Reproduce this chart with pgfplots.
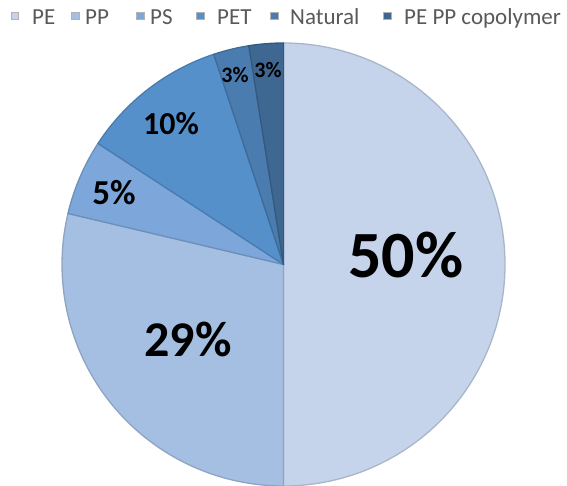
\documentclass[border=0pt]{standalone}
\usepackage{pgfplots}
\usepackage{pgfplotstable}
\pgfplotsset{compat=1.18}
\usepackage{fontspec}
\setmainfont{Carlito}
\definecolor{cPE}{RGB}{197,212,234}
\definecolor{cPP}{RGB}{165,191,226}
\definecolor{cPS}{RGB}{125,166,218}
\definecolor{cPET}{RGB}{85,144,202}
\definecolor{cNat}{RGB}{74,124,176}
\definecolor{cCop}{RGB}{62,103,146}
\definecolor{legtext}{RGB}{89,89,89}

% name value colour legend-square-x legend-text-x
\pgfplotstableread{
name value color sqx tx
PE 50 cPE 11.2 32
PP 28.7 cPP 71.5 85
PS 5.5 cPS 136.5 150
PET 10.7 cPET 196.5 217
Natural 2.6 cNat 270.5 290
{PE PP copolymer} 2.5 cCop 383.5 404
}\piedata

\begin{document}
\begin{tikzpicture}
\begin{axis}[
  x=1pt, y=1pt,
  xmin=0, xmax=567, ymin=0, ymax=486,
  hide axis,
]
\path (axis cs:0,0) rectangle (axis cs:567,486);
\pgfplotstablegetrowsof{\piedata}
\pgfmathtruncatemacro\N{\pgfplotsretval-1}
\def\cum{0}
\pgfplotsforeachungrouped \i in {0,...,\N}{%
  \pgfplotstablegetelem{\i}{value}\of\piedata \let\v\pgfplotsretval
  \pgfplotstablegetelem{\i}{color}\of\piedata \let\c\pgfplotsretval
  \pgfplotstablegetelem{\i}{sqx}\of\piedata \let\sx\pgfplotsretval
  \pgfplotstablegetelem{\i}{tx}\of\piedata \let\tx\pgfplotsretval
  \pgfplotstablegetelem{\i}{name}\of\piedata \let\nm\pgfplotsretval
  \pgfmathsetmacro\a{90-3.6*\cum}
  \pgfmathsetmacro\b{90-3.6*(\cum+\v)}
  \pgfmathsetmacro\cum{\cum+\v}
  \pgfmathsetmacro\sxe{\sx+7.5}
  \edef\temp{%
    \noexpand\fill[\c, draw=\c!86!black, line width=1.3pt, line join=round]
      (axis cs:283.5,221.5) -- ++(\a:221.5pt)
      arc[start angle=\a, end angle=\b, radius=221.5pt] -- cycle;
    \noexpand\fill[\c, draw=black!30, line width=0.5pt]
      (axis cs:\sx,466.5) rectangle (axis cs:\sxe,474);
    \noexpand\node[anchor=base west, inner sep=0pt, text=legtext,
      font=\noexpand\fontsize{23}{23}\noexpand\selectfont]
      at (axis cs:\tx,461) {\nm};
  }%
  \temp
}
\node[font=\bfseries\fontsize{66}{66}\selectfont] at (axis cs:406,231) {50\%};
\node[font=\bfseries\fontsize{50}{50}\selectfont] at (axis cs:188,147) {29\%};
\node[font=\bfseries\fontsize{35}{35}\selectfont] at (axis cs:114,293) {5\%};
\node[font=\bfseries\fontsize{32}{32}\selectfont] at (axis cs:171,362) {10\%};
\node[font=\bfseries\fontsize{22}{22}\selectfont] at (axis cs:235,411) {3\%};
\node[font=\bfseries\fontsize{22}{22}\selectfont] at (axis cs:268,416) {3\%};
\end{axis}
\end{tikzpicture}
\end{document}
